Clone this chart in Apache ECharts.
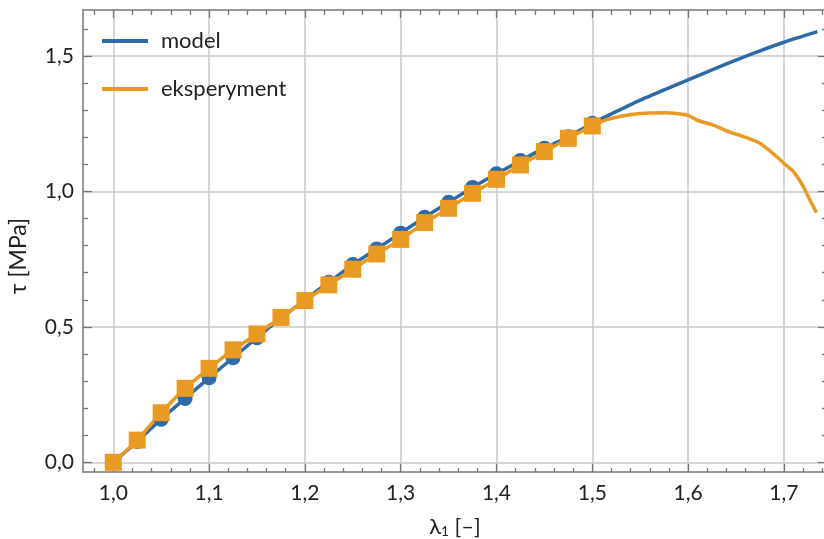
<!DOCTYPE html>
<html>
<head>
<meta charset="utf-8">
<script src="https://cdn.jsdelivr.net/npm/echarts@6/dist/echarts.min.js"></script>
<style>
html,body{margin:0;padding:0;background:#fff;}
#c{width:824px;height:539px;}
</style>
</head>
<body>
<div id="c"></div>
<script>
// Data
var lambdaMarked = [1.0, 1.025, 1.05, 1.075, 1.1, 1.125, 1.15, 1.175, 1.2, 1.225, 1.25, 1.275, 1.3, 1.325, 1.35, 1.375, 1.4, 1.425, 1.45, 1.475, 1.5];
var modelMarked = [0, 0.077, 0.159, 0.236, 0.312, 0.386, 0.46, 0.532, 0.600, 0.665, 0.730, 0.788, 0.846, 0.905, 0.960, 1.015, 1.065, 1.114, 1.160, 1.202, 1.252];
var expMarked = [0, 0.082, 0.183, 0.273, 0.347, 0.415, 0.474, 0.535, 0.597, 0.655, 0.713, 0.769, 0.823, 0.885, 0.938, 0.993, 1.045, 1.098, 1.147, 1.196, 1.242];

var modelTailLambda = [1.525, 1.55, 1.575, 1.6, 1.625, 1.65, 1.675, 1.7, 1.735];
var modelTail = [1.295, 1.337, 1.375, 1.412, 1.449, 1.485, 1.519, 1.551, 1.590];

var expTailLambda = [1.515, 1.53, 1.55, 1.575, 1.59, 1.6, 1.61, 1.625, 1.64, 1.66, 1.675, 1.692, 1.701, 1.71, 1.72, 1.727, 1.734];
var expTail = [1.265, 1.278, 1.288, 1.291, 1.287, 1.281, 1.262, 1.247, 1.224, 1.200, 1.178, 1.130, 1.101, 1.073, 1.020, 0.970, 0.922];

var xMajorTicks = [1.0, 1.1, 1.2, 1.3, 1.4, 1.5, 1.6, 1.7];
var xMinorTicks = [0.98, 1.02, 1.04, 1.06, 1.08, 1.12, 1.14, 1.16, 1.18, 1.22, 1.24, 1.26, 1.28, 1.32, 1.34, 1.36, 1.38, 1.42, 1.44, 1.46, 1.48, 1.52, 1.54, 1.56, 1.58, 1.62, 1.64, 1.66, 1.68, 1.72, 1.74];
var yMajorTicks = [0, 0.5, 1.0, 1.5];
var yMinorTicks = [0.1, 0.2, 0.3, 0.4, 0.6, 0.7, 0.8, 0.9, 1.1, 1.2, 1.3, 1.4, 1.6];

var seriesNames = ['model', 'eksperyment'];
var xName = '{a|λ}{s|1}{a| [–]}';
var yName = 'τ [MPa]';

var BLUE = '#2f69a8';
var ORANGE = '#e89a22';
var AXIS = '#777777';
var GRID = '#c6cacd';
var FONT = 'Lato';

function fmt(v){ return v.toFixed(1).replace('.', ','); }

var modelData = [];
for (var i = 0; i < lambdaMarked.length; i++) modelData.push([lambdaMarked[i], modelMarked[i]]);
for (var j = 0; j < modelTailLambda.length; j++) modelData.push({value: [modelTailLambda[j], modelTail[j]], symbol: 'none'});
var expData = [];
for (var k = 0; k < lambdaMarked.length; k++) expData.push([lambdaMarked[k], expMarked[k]]);
for (var m = 0; m < expTailLambda.length; m++) expData.push({value: [expTailLambda[m], expTail[m]], symbol: 'none'});

var XMIN = 0.9684, XMAX = 1.7450, YMIN = -0.0358, YMAX = 1.670;

function xAx(pos, ticks, len, main){
  return {
    type: 'value', position: pos, min: XMIN, max: XMAX,
    axisLine: {show: main, onZero: false, lineStyle: {color: AXIS, width: 1.5}},
    axisTick: {show: true, inside: true, length: len, customValues: ticks, lineStyle: {color: AXIS, width: 1.3}},
    axisLabel: main && pos === 'bottom' ? {show: true, customValues: xMajorTicks, formatter: fmt, margin: 11, color: '#222', fontSize: 21, fontFamily: FONT} : {show: false},
    splitLine: {show: main && pos === 'bottom', lineStyle: {color: GRID, width: 1.5}},
    name: main && pos === 'bottom' ? xName : '',
    nameLocation: 'middle', nameGap: 44,
    nameTextStyle: {color: '#222', rich: {a: {fontSize: 22, fontFamily: FONT, color: '#222'}, s: {fontSize: 13, fontFamily: FONT, color: '#222', verticalAlign: 'bottom'}}}
  };
}
function yAx(pos, ticks, len, main){
  return {
    type: 'value', position: pos, min: YMIN, max: YMAX,
    axisLine: {show: main, onZero: false, lineStyle: {color: AXIS, width: 1.5}},
    axisTick: {show: true, inside: true, length: len, customValues: ticks, lineStyle: {color: AXIS, width: 1.3}},
    axisLabel: main && pos === 'left' ? {show: true, customValues: yMajorTicks, formatter: fmt, margin: 9, color: '#222', fontSize: 21, fontFamily: FONT} : {show: false},
    splitLine: {show: main && pos === 'left', lineStyle: {color: GRID, width: 1.5}},
    name: main && pos === 'left' ? yName : '',
    nameLocation: 'middle', nameGap: 53,
    nameTextStyle: {color: '#222', fontSize: 23, fontFamily: FONT, padding: [0, 30, 0, 0]}
  };
}

var chart = echarts.init(document.getElementById('c'), null, {renderer: 'canvas'});
chart.setOption({
  animation: false,
  backgroundColor: '#ffffff',
  grid: {left: 83, top: 10, right: -3, bottom: 67, containLabel: false, outerBoundsMode: 'none'},
  legend: {
    orient: 'vertical', left: 102, top: 30, itemGap: 26, padding: 0,
    icon: 'rect', itemWidth: 46, itemHeight: 4,
    data: seriesNames,
    textStyle: {color: '#222', fontSize: 22, fontFamily: FONT, padding: [0, 0, 0, 8]}
  },
  xAxis: [
    xAx('bottom', xMajorTicks, 8, true),
    xAx('bottom', xMinorTicks, 4, false),
    xAx('top', xMajorTicks, 8, true),
    xAx('top', xMinorTicks, 5, false)
  ],
  yAxis: [
    yAx('left', yMajorTicks, 9, true),
    yAx('left', yMinorTicks, 5, false),
    yAx('right', yMajorTicks, 9, true),
    yAx('right', yMinorTicks, 5, false)
  ],
  series: [
    {
      name: seriesNames[0], type: 'line', xAxisIndex: 0, yAxisIndex: 0,
      data: modelData, smooth: 0.2,
      symbol: 'circle', symbolSize: 15, showAllSymbol: true,
      lineStyle: {color: BLUE, width: 3.5},
      itemStyle: {color: BLUE}
    },
    {
      name: seriesNames[1], type: 'line', xAxisIndex: 0, yAxisIndex: 0,
      data: expData, smooth: 0.2,
      symbol: 'rect', symbolSize: 17, showAllSymbol: true,
      lineStyle: {color: ORANGE, width: 3.5},
      itemStyle: {color: ORANGE}
    }
  ]
});
</script>
</body>
</html>
